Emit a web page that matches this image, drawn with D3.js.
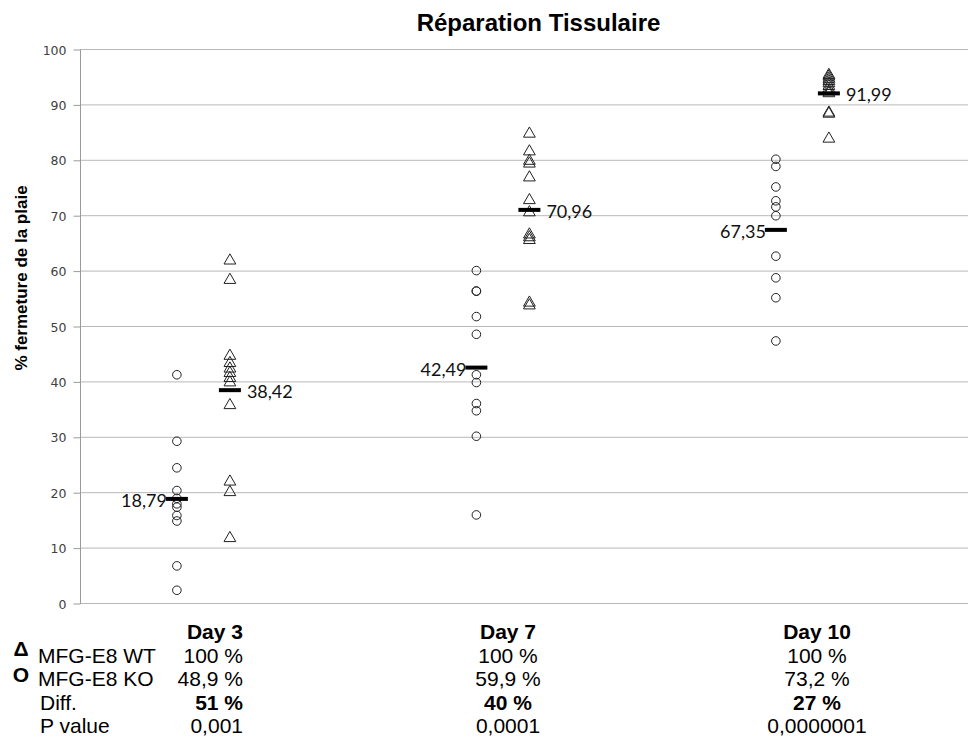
<!DOCTYPE html>
<html>
<head>
<meta charset="utf-8">
<script src="https://cdn.jsdelivr.net/npm/d3@7"></script>
<style>
  html, body { margin: 0; padding: 0; background: #fff; }
  svg { display: block; }
</style>
</head>
<body>
<svg id="chart" width="969" height="738"></svg>
<script>
// ---------- DATA ----------
const days = ["Day 3", "Day 7", "Day 10"];
const yTicks = [0, 10, 20, 30, 40, 50, 60, 70, 80, 90, 100];

// MFG-E8 KO (circles)
const koDay3  = [41.2, 29.2, 24.4, 20.3, 18.9, 17.9, 17.3, 15.8, 14.8, 6.7, 2.3];
const koDay7  = [60.0, 56.3, 56.3, 51.7, 48.5, 41.2, 39.8, 36.0, 34.7, 30.1, 15.9];
const koDay10 = [80.1, 78.8, 75.1, 72.6, 71.5, 69.9, 62.6, 58.7, 55.1, 47.3];

// MFG-E8 WT (triangles)
const wtDay3  = [61.8, 58.3, 44.6, 43.3, 42.3, 41.5, 40.6, 39.8, 35.7, 21.9, 20.0, 11.7];
const wtDay7  = [84.7, 81.5, 79.8, 79.3, 76.8, 72.7, 70.5, 66.5, 66.0, 65.5, 54.2, 53.7];
const wtDay10 = [95.3, 95.0, 94.6, 94.2, 93.8, 93.3, 92.8, 92.3, 92.0, 88.5, 88.3, 83.8];

// means (labels)
const koMeans = [18.79, 42.49, 67.35];
const wtMeans = [38.42, 70.96, 91.99];

// table rows
const wtRow   = ["100 %", "100 %", "100 %"];
const koRow   = ["48,9 %", "59,9 %", "73,2 %"];
const diffRow = ["51 %", "40 %", "27 %"];
const pRow    = ["0,001", "0,0001", "0,0000001"];

const koSeries = [koDay3, koDay7, koDay10];
const wtSeries = [wtDay3, wtDay7, wtDay10];

// ---------- LAYOUT ----------
const svg = d3.select("#chart");
const pLeft = 80, pRight = 968, pTop = 49, pBottom = 603;

const x = d3.scaleLinear().domain([-0.412, 2.553]).range([pLeft, pRight]);
const y = d3.scaleLinear().domain([0, 100]).range([pBottom, pTop]);
const off = 0.0885; // group offset (in day units)

const fmt = v => d3.format(".2f")(v).replace(".", ",");

// gridlines
svg.append("g").selectAll("line").data(yTicks).join("line")
  .attr("x1", pLeft).attr("x2", pRight)
  .attr("y1", d => y(d) + 0.5).attr("y2", d => y(d) + 0.5)
  .attr("stroke", "#b8b8b8").attr("stroke-width", 1);

// y axis
const yAxis = d3.axisLeft(y).tickValues(yTicks).tickSize(7).tickPadding(7);
const ag = svg.append("g").attr("transform", `translate(${pLeft + 0.5},0.5)`).call(yAxis);
ag.select(".domain").attr("stroke", "#9a9a9a").attr("d", `M0,${pTop}V${pBottom}`);
ag.selectAll(".tick line").attr("stroke", "#9a9a9a");
ag.selectAll(".tick text")
  .attr("font-family", "DejaVu Sans, Verdana, sans-serif")
  .attr("font-size", "12.5px").attr("fill", "#404040").attr("dy", "0.36em");

// title
svg.append("text").attr("x", 538.5).attr("y", 31)
  .attr("text-anchor", "middle")
  .attr("font-family", "Liberation Sans, Arial, sans-serif")
  .attr("font-weight", "bold").attr("font-size", "24px").attr("fill", "#000")
  .text("Réparation Tissulaire");

// y axis label
svg.append("text")
  .attr("transform", "translate(27,278) rotate(-90)")
  .attr("text-anchor", "middle")
  .attr("font-family", "Liberation Sans, Arial, sans-serif")
  .attr("font-weight", "bold").attr("font-size", "17px").attr("fill", "#000")
  .text("% fermeture de la plaie");

// points
const koPts = koSeries.flatMap((arr, i) => arr.map(v => ({ i, v })));
const wtPts = wtSeries.flatMap((arr, i) => arr.map(v => ({ i, v })));

svg.append("g").selectAll("circle").data(koPts).join("circle")
  .attr("cx", d => x(d.i - off)).attr("cy", d => y(d.v))
  .attr("r", 4.3).attr("fill", "none").attr("stroke", "#222").attr("stroke-width", 1);

const tri = d3.symbol().type(d3.symbolTriangle).size(60);
svg.append("g").selectAll("path").data(wtPts).join("path")
  .attr("transform", d => `translate(${x(d.i + off)},${y(d.v)})`)
  .attr("d", tri).attr("fill", "none").attr("stroke", "#222").attr("stroke-width", 1);

// mean bars
const barW = 22, barH = 4;
svg.append("g").selectAll("rect").data(koMeans.map((v, i) => ({ v, i, s: -1 }))
  .concat(wtMeans.map((v, i) => ({ v, i, s: 1 })))).join("rect")
  .attr("x", d => x(d.i + d.s * off) - barW / 2)
  .attr("y", d => y(d.v) - barH / 2)
  .attr("width", barW).attr("height", barH).attr("fill", "#000");

// mean labels
const lblFont = "Lato, Carlito, Calibri, sans-serif";
svg.append("g").selectAll("text").data(koMeans.map((v, i) => ({ v, i }))).join("text")
  .attr("x", d => x(d.i - off) - barW / 2 + 1)
  .attr("y", d => y(d.v) + 8)
  .attr("text-anchor", "end")
  .attr("font-family", lblFont).attr("font-size", "18px").attr("fill", "#111")
  .text(d => fmt(d.v));
svg.append("g").selectAll("text").data(wtMeans.map((v, i) => ({ v, i }))).join("text")
  .attr("x", d => x(d.i + off) + barW / 2 + 6)
  .attr("y", d => y(d.v) + 8)
  .attr("text-anchor", "start")
  .attr("font-family", lblFont).attr("font-size", "18px").attr("fill", "#111")
  .text(d => fmt(d.v));

// ---------- TABLE ----------
const tf = "Liberation Sans, Arial, sans-serif";
const rowY = [639, 662.5, 686, 709.5, 733];
const colX = [243, 508, 817];
const colAnchor = ["end", "middle", "middle"];
const tSize = "21px";

const rows = [
  { vals: days, bold: true },
  { vals: wtRow, bold: false },
  { vals: koRow, bold: false },
  { vals: diffRow, bold: true },
  { vals: pRow, bold: false }
];
const tg = svg.append("g");
rows.forEach((r, ri) => {
  tg.selectAll(null).data(r.vals).join("text")
    .attr("x", (d, i) => colX[i]).attr("y", rowY[ri])
    .attr("text-anchor", (d, i) => colAnchor[i])
    .attr("font-family", tf).attr("font-size", tSize)
    .attr("font-weight", r.bold ? "bold" : "normal")
    .attr("fill", "#000").text(d => d);
});

const legendLabels = ["MFG-E8 WT", "MFG-E8 KO", "Diff.", "P value"];
tg.selectAll(null).data(legendLabels).join("text")
  .attr("x", (d, i) => i < 2 ? 38 : 40).attr("y", (d, i) => rowY[i + 1])
  .attr("font-family", tf).attr("font-size", tSize).attr("fill", "#000")
  .text(d => d);

// legend symbols
const legendSymbols = ["Δ", "O"];
tg.selectAll(null).data(legendSymbols).join("text")
  .attr("x", 21).attr("y", (d, i) => i === 0 ? 656 : 682)
  .attr("text-anchor", "middle")
  .attr("font-family", tf).attr("font-size", "21px").attr("font-weight", "bold")
  .attr("fill", "#000").text(d => d);
</script>
</body>
</html>
